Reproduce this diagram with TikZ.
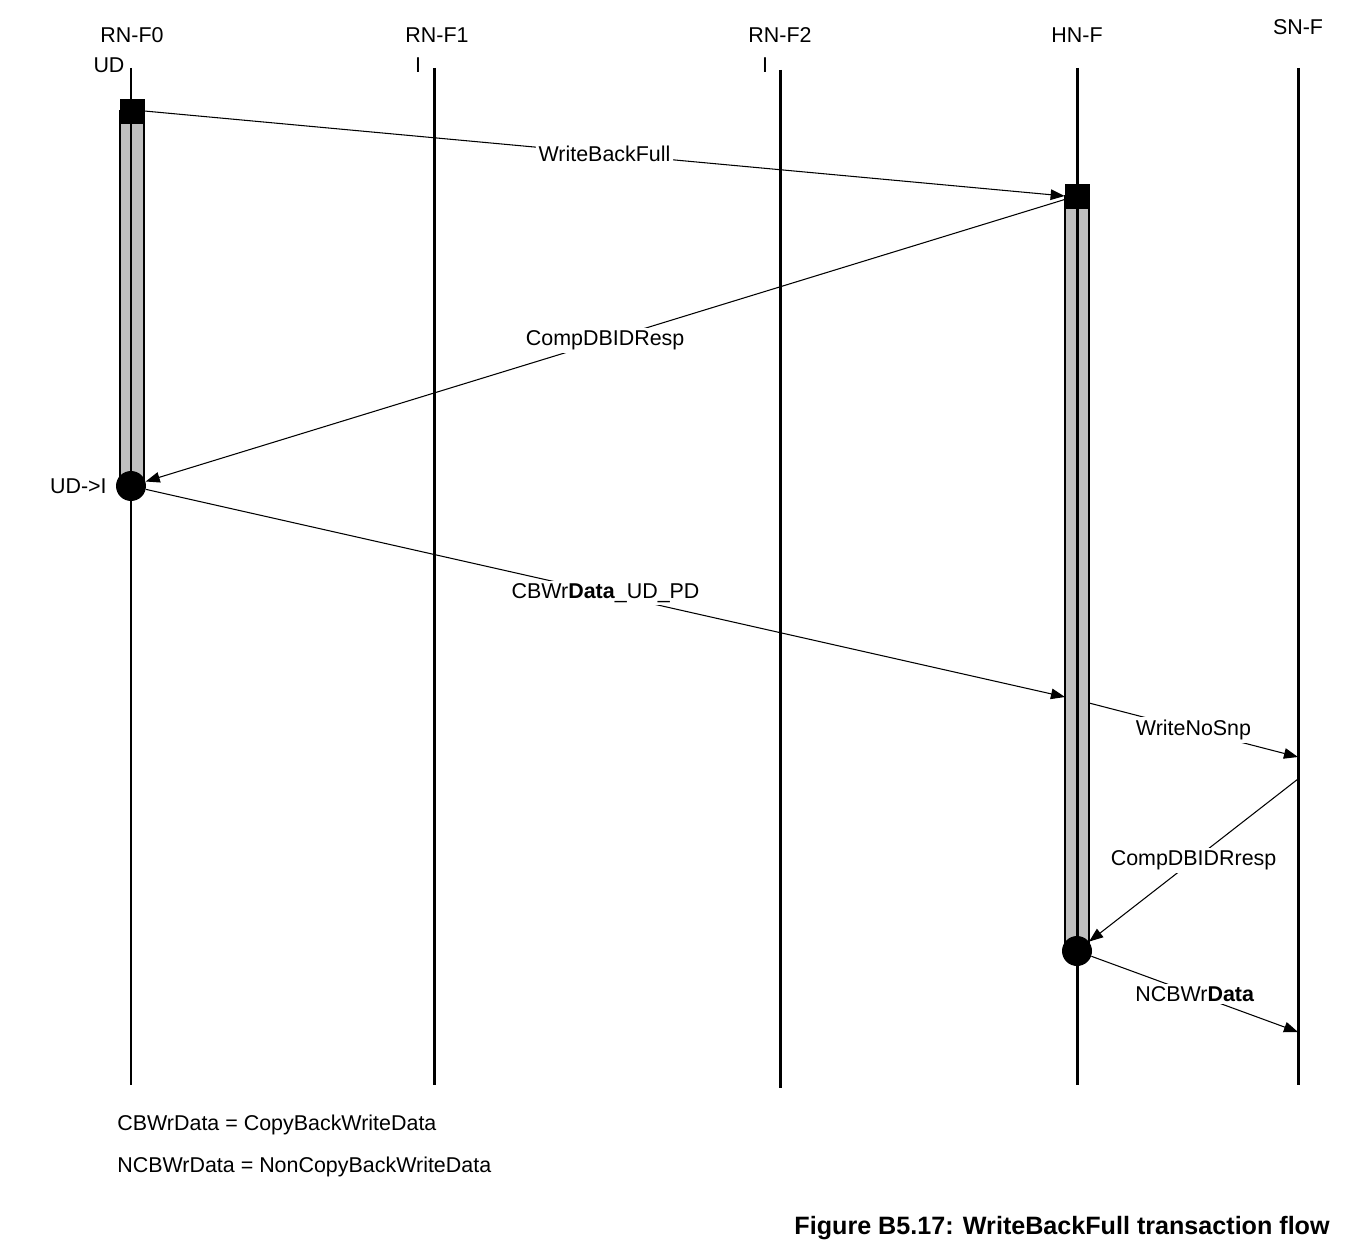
\documentclass[tikz,border=0pt]{standalone}
\usepackage{fontspec}
\setmainfont{Liberation Sans}
\usetikzlibrary{arrows.meta}

\tikzset{
  life/.style={line width=1.7pt},
  msg/.style={line width=0.6pt,-{Triangle[length=8pt,width=6pt]}},
  lbl/.style={fill=white,inner sep=1.5pt,font=\fontsize{12.2}{14}\selectfont},
  head/.style={font=\fontsize{12.2}{14}\selectfont,inner sep=0pt},
  actbar/.style={draw=black,fill=black!25,line width=0.6pt},
  blk/.style={fill=black,draw=black,minimum size=0.48cm,inner sep=0pt},
  blob/.style={circle,fill=black,minimum size=0.6cm,inner sep=0pt},
}

\begin{document}
\begin{tikzpicture}[x=0.02cm,y=-0.02cm]
\useasboundingbox (0,0) rectangle (1348,1256);

% heads
\node[head] (nf0) at (132,35) {RN-F0};
\node[head] (nf1) at (437,35) {RN-F1};
\node[head] (nf2) at (780,35) {RN-F2};
\node[head] (nhn) at (1077,35) {HN-F};
\node[head] (nsn) at (1298,27) {SN-F};
\node[head] (sf0) at (109,65) {UD};
\node[head] (sf1) at (418,65) {I};
\node[head] (sf2) at (765,65) {I};

% lifeline ends
\coordinate (f0t) at (131,68);  \coordinate (f0b) at (131,1085);
\coordinate (f1t) at (434,68);  \coordinate (f1b) at (434,1085);
\coordinate (f2t) at (780,70);  \coordinate (f2b) at (780,1088);
\coordinate (hnt) at (1077,68); \coordinate (hnb) at (1077,1085);
\coordinate (snt) at (1298,68); \coordinate (snb) at (1298,1085);

% activation bars
\draw[actbar] (120,111) rectangle (144,486);
\draw[actbar] (1065,196) rectangle (1089,951);

\draw[life] (f0t) -- (f0b);
\draw[life] (f1t) -- (f1b);
\draw[life] (f2t) -- (f2b);
\draw[life] (hnt) -- (hnb);
\draw[life] (snt) -- (snb);

\node[blk] (sq0) at (132,111) {};
\node[blob] (ci0) at (131,486) {};
\node[blk] (sqh) at (1077,196) {};
\node[blob] (cih) at (1077,951) {};

\node[head,anchor=east] (st0) at (107,486) {UD->I};

% message end points
\coordinate (hin) at (1065,697);
\coordinate (hout) at (1089,703);
\coordinate (sn1) at (1298,757);
\coordinate (sn2) at (1298,779);
\coordinate (sn3) at (1298,1032);

% messages
\draw[msg] (sq0.east) -- (sqh.west) node[midway,lbl] {WriteBackFull};
\draw[msg] ([yshift=-2pt]sqh.west) -- (ci0) node[midway,lbl] {CompDBIDResp};
\draw[msg] (ci0) -- (hin) node[midway,lbl] {CBWr\textbf{Data}\_UD\_PD};
\draw[msg] (hout) -- (sn1) node[midway,lbl] {WriteNoSnp};
\draw[msg] (sn2) -- (cih) node[midway,lbl] {CompDBIDRresp};
\draw[msg] (cih) -- (sn3) node[midway,lbl] {NCBWr\textbf{Data}};

% notes
\node[head,anchor=west] (key1) at (117,1125) {CBWrData = CopyBackWriteData};
\node[head,anchor=west] (key2) at (117,1167) {NCBWrData = NonCopyBackWriteData};
\node[head,anchor=east,font=\fontsize{14.3}{17}\bfseries] (cap) at (1330,1228) {Figure B5.17: WriteBackFull transaction flow};
\end{tikzpicture}
\end{document}
